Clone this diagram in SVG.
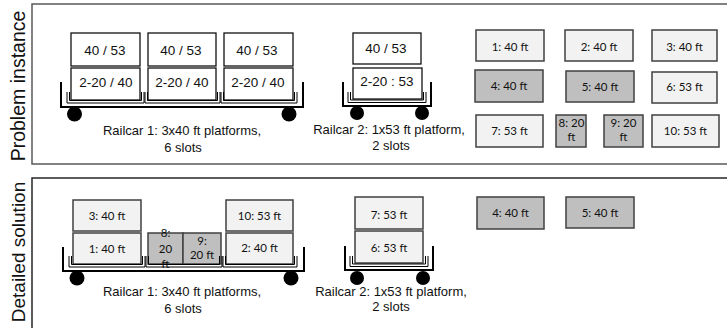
<svg xmlns="http://www.w3.org/2000/svg" width="727" height="328" viewBox="0 0 727 328">
  <style>
    .panel-a { fill: none; stroke: #5a5a5a; stroke-width: 1.5; }
    .panel-b { fill: none; stroke: #262626; stroke-width: 1.5; }
    .side { font-family: "Liberation Sans", Arial, sans-serif; font-size: 19.5px; text-anchor: middle; fill: #111; }
    .slot { fill: #fff; stroke: #111; stroke-width: 1.3; }
    .slot-t { font-family: "Liberation Sans", Arial, sans-serif; font-size: 13.5px; text-anchor: middle; fill: #111; }
    .frame { fill: none; stroke: #000; stroke-width: 2; }
    .plat { fill: none; stroke: #000; stroke-width: 1; }
    .wheel { fill: #000; }
    .cap { font-family: "Liberation Sans", Arial, sans-serif; font-size: 13px; text-anchor: middle; fill: #111; }
    .box-l { fill: #f2f2f2; stroke: #404040; stroke-width: 1.5; }
    .box-d { fill: #bfbfbf; stroke: #404040; stroke-width: 1.5; }
    .ct { font-family: Lato, "Open Sans", sans-serif; font-size: 11.5px; text-anchor: middle; fill: #111; }
  </style>

  <!-- panels -->
  <g id="panel-problem">
    <rect class="panel-a" x="32" y="4" width="700" height="160"/>
    <text class="side" transform="translate(25,86) rotate(-90)">Problem instance</text>
  </g>
  <g id="panel-solution">
    <rect class="panel-b" x="32" y="178" width="700" height="160"/>
    <text class="side" style="font-size:19px" transform="translate(25,252) rotate(-90)">Detailed solution</text>
  </g>

  <!-- problem instance: railcar 1 with slot capacities -->
  <g id="railcar1-problem">
    <rect class="slot" x="71" y="33" width="69" height="33"/>
    <text class="slot-t" x="105" y="55">40 / 53</text>
    <rect class="slot" x="71" y="68" width="69" height="32"/>
    <text class="slot-t" x="106" y="87">2-20 / 40</text>
    <rect class="slot" x="148" y="33" width="68" height="33"/>
    <text class="slot-t" x="181" y="55">40 / 53</text>
    <rect class="slot" x="148" y="68" width="68" height="32"/>
    <text class="slot-t" x="182" y="87">2-20 / 40</text>
    <rect class="slot" x="224" y="33" width="69" height="33"/>
    <text class="slot-t" x="257" y="55">40 / 53</text>
    <rect class="slot" x="224" y="68" width="69" height="32"/>
    <text class="slot-t" x="258" y="87">2-20 / 40</text>
    <path class="plat" d="M67,92 V103 H144 V92 M69.5,92 V100.5 H141.5 V92"/>
    <path class="plat" d="M145,92 V103 H220 V92 M147.5,92 V100.5 H217.5 V92"/>
    <path class="plat" d="M221,92 V103 H297 V92 M223.5,92 V100.5 H294.5 V92"/>
    <path class="frame" d="M61,82 V107 H303 V82"/>
    <circle class="wheel" cx="74.5" cy="114" r="7.5"/>
    <circle class="wheel" cx="289" cy="114" r="7.5"/>
    <text class="cap" x="182" y="135">Railcar 1: 3x40 ft platforms,</text>
    <text class="cap" x="183" y="152">6 slots</text>
  </g>

  <!-- problem instance: railcar 2 -->
  <g id="railcar2-problem">
    <rect class="slot" x="353" y="33" width="68" height="31"/>
    <text class="slot-t" x="386" y="53">40 / 53</text>
    <rect class="slot" x="353" y="68" width="69" height="31"/>
    <text class="slot-t" x="387" y="86">2-20 : 53</text>
    <path class="plat" d="M348,92 V102.5 H426 V92 M350.5,92 V100 H423.5 V92"/>
    <path class="frame" d="M343,82 V106 H431 V82"/>
    <circle class="wheel" cx="357" cy="113" r="7"/>
    <circle class="wheel" cx="422" cy="113" r="7"/>
    <text class="cap" x="389" y="134">Railcar 2: 1x53 ft platform,</text>
    <text class="cap" x="391" y="150">2 slots</text>
  </g>

  <!-- problem instance: containers to load -->
  <g id="c1"><rect class="box-l" x="476" y="30" width="68" height="31"/><text class="ct" x="510" y="50.5">1: 40 ft</text></g>
  <g id="c2"><rect class="box-l" x="565" y="30" width="68" height="31"/><text class="ct" x="599" y="50.5">2: 40 ft</text></g>
  <g id="c3"><rect class="box-l" x="652" y="30" width="65" height="31"/><text class="ct" x="684.5" y="50.5">3: 40 ft</text></g>
  <g id="c4"><rect class="box-d" x="475" y="70" width="68" height="32"/><text class="ct" x="509" y="90">4: 40 ft</text></g>
  <g id="c5"><rect class="box-d" x="566" y="71" width="68" height="31"/><text class="ct" x="600" y="91">5: 40 ft</text></g>
  <g id="c6"><rect class="box-l" x="652" y="72" width="65" height="31"/><text class="ct" x="684.5" y="91">6: 53 ft</text></g>
  <g id="c7"><rect class="box-l" x="476" y="115" width="67" height="32"/><text class="ct" x="509.5" y="134.5">7: 53 ft</text></g>
  <g id="c8"><rect class="box-d" x="556" y="115" width="30" height="32"/><text class="ct" x="571.5" y="127">8: 20</text><text class="ct" x="571.5" y="140.5">ft</text></g>
  <g id="c9"><rect class="box-d" x="604" y="115" width="39" height="32"/><text class="ct" x="623.5" y="127">9: 20</text><text class="ct" x="623.5" y="140.5">ft</text></g>
  <g id="c10"><rect class="box-l" x="652" y="115" width="67" height="32"/><text class="ct" x="685.5" y="134.5">10: 53 ft</text></g>

  <!-- detailed solution: railcar 1 loaded -->
  <g id="railcar1-solution">
    <rect class="box-l" x="73" y="200" width="68" height="31"/>
    <text class="ct" x="107" y="219.5">3: 40 ft</text>
    <rect class="box-l" x="73" y="233" width="68" height="31"/>
    <text class="ct" x="107" y="252.5">1: 40 ft</text>
    <rect class="box-d" x="148" y="233" width="35" height="31"/>
    <text class="ct" x="165.5" y="237">8:</text>
    <text class="ct" x="165.5" y="252.5">20</text>
    <text class="ct" x="165.5" y="267.5">ft</text>
    <rect class="box-d" x="183" y="233" width="38" height="31"/>
    <text class="ct" x="202" y="244.5">9:</text>
    <text class="ct" x="202" y="258.5">20 ft</text>
    <rect class="box-l" x="226" y="200" width="67" height="31"/>
    <text class="ct" x="259.5" y="219.5">10: 53 ft</text>
    <rect class="box-l" x="226" y="233" width="67" height="31"/>
    <text class="ct" x="259.5" y="252">2: 40 ft</text>
    <path class="plat" d="M69,256 V267 H145 V256 M71.5,256 V264.5 H142.5 V256"/>
    <path class="plat" d="M146,256 V267 H222 V256 M148.5,256 V264.5 H219.5 V256"/>
    <path class="plat" d="M223,256 V267 H297 V256 M225.5,256 V264.5 H294.5 V256"/>
    <path class="frame" d="M63,247 V271 H304 V247"/>
    <circle class="wheel" cx="77" cy="278" r="7.5"/>
    <circle class="wheel" cx="291" cy="278" r="7.5"/>
    <text class="cap" x="182" y="296">Railcar 1: 3x40 ft platforms,</text>
    <text class="cap" x="183" y="313">6 slots</text>
  </g>

  <!-- detailed solution: railcar 2 loaded -->
  <g id="railcar2-solution">
    <rect class="box-l" x="355" y="197" width="68" height="32"/>
    <text class="ct" x="389" y="218.5">7: 53 ft</text>
    <rect class="box-l" x="355" y="231" width="68" height="32"/>
    <text class="ct" x="389" y="252">6: 53 ft</text>
    <path class="plat" d="M350,256 V266.5 H428 V256 M352.5,256 V264 H425.5 V256"/>
    <path class="frame" d="M345,246 V270 H433 V246"/>
    <circle class="wheel" cx="357" cy="278" r="7"/>
    <circle class="wheel" cx="423" cy="278" r="7"/>
    <text class="cap" x="391" y="296">Railcar 2: 1x53 ft platform,</text>
    <text class="cap" x="391" y="311">2 slots</text>
  </g>

  <!-- detailed solution: containers left unassigned -->
  <g id="c4-solution"><rect class="box-d" x="477" y="197" width="67" height="32"/><text class="ct" x="510.5" y="217">4: 40 ft</text></g>
  <g id="c5-solution"><rect class="box-d" x="566" y="197" width="68" height="31"/><text class="ct" x="600" y="217">5: 40 ft</text></g>
</svg>
